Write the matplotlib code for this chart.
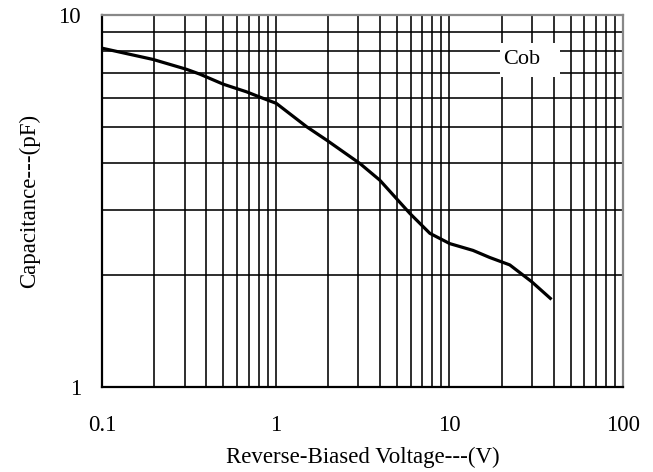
import matplotlib
matplotlib.use("Agg")
import matplotlib.pyplot as plt
from matplotlib.patches import Rectangle
from matplotlib.ticker import FixedLocator, NullFormatter

plt.rcParams['font.family'] = ['Liberation Serif', 'DejaVu Serif']

# Cob curve
voltage = [0.1, 0.197, 0.307, 0.366, 0.5, 0.68, 0.85, 1.01, 1.51, 1.97, 3.06,
           3.98, 5.93, 7.73, 10.07, 13.7, 17.1, 22.3, 29.8, 38.8]
capacitance = [8.15, 7.6, 7.15, 6.94, 6.52, 6.22, 5.97, 5.79, 5.01, 4.61, 3.99,
               3.6, 2.93, 2.59, 2.43, 2.33, 2.23, 2.13, 1.92, 1.72]

x_ticks = [0.1, 1, 10, 100]
x_labels = ['0.1', '1', '10', '100']
y_ticks = [1, 10]
y_labels = ['1', '10']

fig = plt.figure(figsize=(6.53, 4.72), dpi=100)
ax = fig.add_axes([0.156, 0.180, 0.798, 0.788])

ax.plot(voltage, capacitance, color='black', lw=2.3, solid_capstyle='butt', zorder=3)

ax.set_xscale('log')
ax.set_yscale('log')
ax.set_xlim(0.1, 100)
ax.set_ylim(1, 10)

ax.xaxis.set_major_locator(FixedLocator(x_ticks))
ax.yaxis.set_major_locator(FixedLocator(y_ticks))
ax.set_xticklabels(x_labels)
ax.set_yticklabels(y_labels)
ax.xaxis.set_minor_locator(FixedLocator([m * d for d in [0.1, 1, 10] for m in range(2, 10)]))
ax.yaxis.set_minor_locator(FixedLocator(list(range(2, 10))))
ax.xaxis.set_minor_formatter(NullFormatter())
ax.yaxis.set_minor_formatter(NullFormatter())

ax.grid(True, which='both', color='black', lw=1.15, zorder=1)
ax.set_axisbelow(True)
ax.tick_params(which='both', length=0, labelsize=16.5)
ax.tick_params(axis='x', pad=20)
ax.tick_params(axis='y', pad=15)

for side in ['left', 'bottom']:
    ax.spines[side].set_color('black')
    ax.spines[side].set_linewidth(1.6)
for side in ['top', 'right']:
    ax.spines[side].set_color('#888888')
    ax.spines[side].set_linewidth(1.6)

ax.set_xlabel('Reverse-Biased Voltage---(V)', fontsize=16.5, labelpad=8)
ax.set_ylabel('Capacitance---(pF)', fontsize=16.5, labelpad=13)

# white box behind the series label
ax.add_patch(Rectangle((0.764, 0.833), 0.115, 0.0914, transform=ax.transAxes,
                       facecolor='white', edgecolor='none', zorder=2))
ax.text(26.2, 7.62, 'Cob', fontsize=16, ha='center', va='center', zorder=4)

fig.savefig('out.png', dpi=100)
